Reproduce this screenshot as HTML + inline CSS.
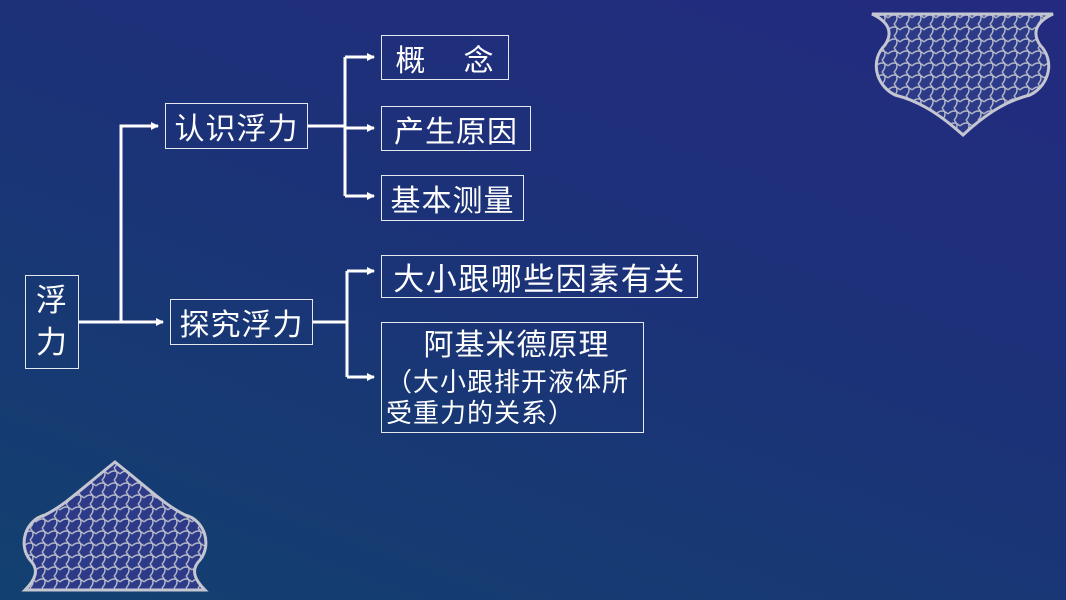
<!DOCTYPE html>
<html><head><meta charset="utf-8"><style>
body{margin:0;width:1066px;height:600px;overflow:hidden;background:linear-gradient(200deg,#242a80 0%,#1c3278 45%,#12416f 100%);font-family:"Liberation Sans","Noto Sans CJK SC",sans-serif;position:relative}
.b{position:absolute;border:1.5px solid #e6e8f0;color:#fff;box-sizing:border-box;font-size:30px;display:flex;align-items:center;justify-content:center;letter-spacing:1px;white-space:nowrap}
svg{position:absolute;left:0;top:0}
</style></head><body>
<svg width="1066" height="600">
<defs><marker id="a" markerWidth="8" markerHeight="8" refX="7" refY="4" orient="auto" markerUnits="userSpaceOnUse"><path d="M0,0 L8,4 L0,8z" fill="#fff"/></marker>
<pattern id="p" width="12" height="12" patternUnits="userSpaceOnUse"><rect width="12" height="12" fill="#2c3a88"/><path d="M0,6 Q6,0 12,6 M6,0 Q12,6 6,12" stroke="#b4b8c8" stroke-width="1.4" fill="none"/></pattern></defs>
<path d="M872,14 L1053,14 C1040,20 1030,30 1040,45 C1055,60 1050,85 1030,95 C1010,100 990,110 963,135 C935,110 915,100 895,95 C875,85 870,60 885,45 C895,30 885,20 872,14Z" fill="url(#p)" stroke="#c4c6d2" stroke-width="3"/>
<path d="M25,590 L205,590 C195,580 190,570 200,560 C212,545 205,520 185,515 C165,505 150,490 115,462 C80,490 65,505 45,515 C25,520 18,545 30,560 C40,570 35,580 25,590Z" fill="url(#p)" stroke="#c4c6d2" stroke-width="3"/>
<g stroke="#fff" stroke-width="3" fill="none">
<path d="M79,322 H163" marker-end="url(#a)"/>
<path d="M121,322 V126 H158" marker-end="url(#a)"/>
<path d="M308,126 H345"/>
<path d="M345,57 V196"/>
<path d="M345,57 H374" marker-end="url(#a)"/>
<path d="M345,128 H374" marker-end="url(#a)"/>
<path d="M345,196 H374" marker-end="url(#a)"/>
<path d="M313,322 H347"/>
<path d="M347,271 V377"/>
<path d="M347,271 H374" marker-end="url(#a)"/>
<path d="M347,377 H374" marker-end="url(#a)"/>
</g>
</svg>
<div class="b" style="left:25px;top:275px;width:54px;height:94px;flex-direction:column;font-size:31px;line-height:42px">浮<br>力</div>
<div class="b" style="left:165px;top:103px;width:143px;height:46px">认识浮力</div>
<div class="b" style="left:170px;top:299px;width:143px;height:46px">探究浮力</div>
<div class="b" style="left:381px;top:35px;width:128px;height:45px">概&nbsp;&nbsp;&nbsp;&nbsp;念</div>
<div class="b" style="left:381px;top:106px;width:150px;height:45px">产生原因</div>
<div class="b" style="left:381px;top:175px;width:143px;height:46px">基本测量</div>
<div class="b" style="left:381px;top:255px;width:317px;height:43px;font-size:31px;letter-spacing:1.5px">大小跟哪些因素有关</div>
<div class="b" style="left:381px;top:322px;width:263px;height:111px;display:block;padding:2px 0 0 4px;font-size:26px;line-height:31px;letter-spacing:1px">
<div style="text-align:center;font-size:30px;line-height:42px;letter-spacing:1px;padding-left:4px">阿基米德原理</div>（大小跟排开液体所<br>受重力的关系）</div>
</body></html>
